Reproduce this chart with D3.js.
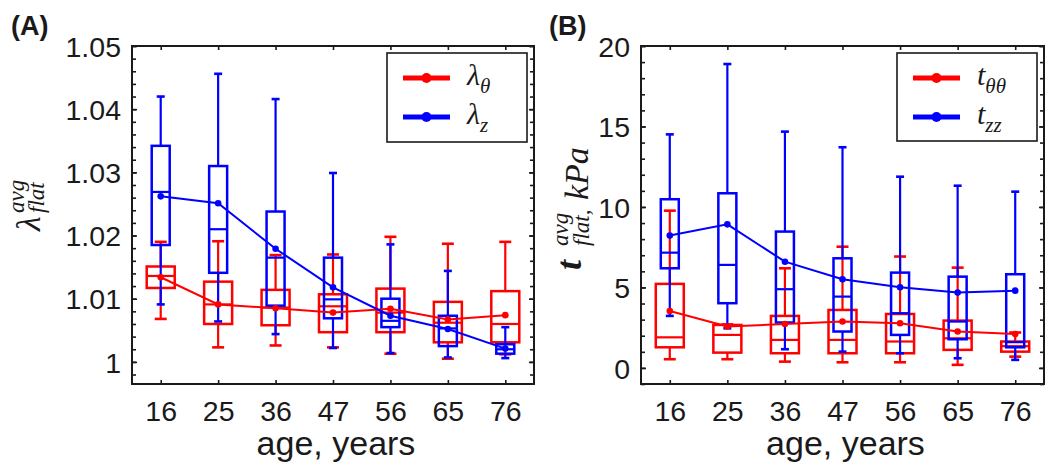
<!DOCTYPE html>
<html><head><meta charset="utf-8">
<script src="https://cdn.jsdelivr.net/npm/d3@7"></script>
<style>body{margin:0;background:#fff}svg{display:block}</style>
</head><body>
<svg id="chart" width="1050" height="472"></svg>
<script>
// ---------- data ----------
const ages = ["16","25","36","47","56","65","76"];

// Panel A: lambda_theta (red)
const lamThetaLo   = [1.0068, 1.0023, 1.0026, 1.0023, 1.0013, 1.0005, 1.0012];
const lamThetaQ1   = [1.0117, 1.0060, 1.0058, 1.0047, 1.0047, 1.0031, 1.0031];
const lamThetaMed  = [1.0136, 1.0091, 1.0086, 1.0088, 1.0078, 1.0062, 1.0060];
const lamThetaQ3   = [1.0151, 1.0127, 1.0114, 1.0107, 1.0116, 1.0095, 1.0112];
const lamThetaHi   = [1.0190, 1.0191, 1.0169, 1.0170, 1.0198, 1.0187, 1.0190];
const lamThetaMean = [1.0134, 1.0091, 1.0085, 1.0078, 1.0084, 1.0067, 1.0074];
// Panel A: lambda_z (blue)
const lamZLo   = [1.0091, 1.0064, 1.0044, 1.0022, 1.0014, 1.0007, 1.0006];
const lamZQ1   = [1.0185, 1.0141, 1.0089, 1.0069, 1.0055, 1.0025, 1.0013];
const lamZMed  = [1.0269, 1.0210, 1.0165, 1.0099, 1.0065, 1.0053, 1.0020];
const lamZQ3   = [1.0342, 1.0310, 1.0238, 1.0165, 1.0100, 1.0073, 1.0028];
const lamZHi   = [1.0420, 1.0456, 1.0416, 1.0299, 1.0186, 1.0144, 1.0055];
const lamZMean = [1.0262, 1.0251, 1.0179, 1.0118, 1.0073, 1.0052, 1.0021];

// Panel B: t_thetatheta (red)
const tThLo   = [0.54, 0.54, 0.39, 0.35, 0.35, 0.19, 0.70];
const tThQ1   = [1.28, 0.95, 0.91, 0.91, 0.91, 1.12, 1.01];
const tThMed  = [1.90, 2.05, 1.74, 1.74, 1.64, 1.84, 1.35];
const tThQ3   = [5.22, 2.67, 3.23, 3.60, 3.35, 2.94, 1.64];
const tThHi   = [9.77, 2.70, 6.19, 7.53, 6.92, 6.23, 2.20];
const tThMean = [3.54, 2.57, 2.73, 2.88, 2.77, 2.26, 2.11];
// Panel B: t_zz (blue)
const tZLo   = [3.23, 2.46, 1.16, 1.01, 0.91, 0.60, 0.50];
const tZQ1   = [6.19, 4.02, 2.82, 2.26, 2.05, 1.78, 1.28];
const tZMed  = [7.16, 6.40, 4.89, 4.43, 3.40, 2.88, 1.60];
const tZQ3   = [10.48, 10.85, 8.47, 6.81, 5.92, 5.67, 5.82];
const tZHi   = [14.51, 18.88, 14.68, 13.71, 11.88, 11.32, 10.95];
const tZMean = [8.22, 8.92, 6.60, 5.51, 5.01, 4.68, 4.80];

const yTicksA = [1, 1.01, 1.02, 1.03, 1.04, 1.05];
const yTickLabelsA = ["1", "1.01", "1.02", "1.03", "1.04", "1.05"];
const yTicksB = [0, 5, 10, 15, 20];
const yTickLabelsB = ["0", "5", "10", "15", "20"];

// ---------- drawing ----------
const RED = "#ff0000", BLUE = "#0000ff", INK = "#1a1a1a";
const SANS = "'Liberation Sans', Arial, Helvetica, sans-serif";
const SERIF = "'Liberation Serif', 'Times New Roman', serif";
const svg = d3.select("#chart");

function series(lo, q1, med, q3, hi, mean) {
  return ages.map((a, i) => ({age: a, i, lo: lo[i], q1: q1[i], med: med[i], q3: q3[i], hi: hi[i], mean: mean[i]}));
}

function drawPanel(cfg) {
  const {left, right, top, bottom} = cfg;
  const g = svg.append("g");
  const x = d3.scalePoint().domain(ages).range([left, right]).padding(0.5);
  const y = d3.scaleLinear().domain(cfg.yDomain).range([bottom, top]);

  function boxes(data, color, bw, cw) {
    const gg = g.append("g").attr("fill", "none").attr("stroke", color);
    const b = gg.selectAll("g").data(data).join("g");
    b.append("line").attr("x1", d => x(d.age)).attr("x2", d => x(d.age))
      .attr("y1", d => y(d.q3)).attr("y2", d => y(d.hi)).attr("stroke-width", 2.2);
    b.append("line").attr("x1", d => x(d.age)).attr("x2", d => x(d.age))
      .attr("y1", d => y(d.q1)).attr("y2", d => y(d.lo)).attr("stroke-width", 2.2);
    b.append("line").attr("x1", d => x(d.age) - cw/2).attr("x2", d => x(d.age) + cw/2)
      .attr("y1", d => y(d.hi)).attr("y2", d => y(d.hi)).attr("stroke-width", 2.6);
    b.append("line").attr("x1", d => x(d.age) - cw/2).attr("x2", d => x(d.age) + cw/2)
      .attr("y1", d => y(d.lo)).attr("y2", d => y(d.lo)).attr("stroke-width", 2.6);
    b.append("rect").attr("x", d => x(d.age) - bw/2).attr("width", bw)
      .attr("y", d => y(d.q3)).attr("height", d => y(d.q1) - y(d.q3)).attr("stroke-width", 2.5);
    b.append("line").attr("x1", d => x(d.age) - bw/2).attr("x2", d => x(d.age) + bw/2)
      .attr("y1", d => y(d.med)).attr("y2", d => y(d.med)).attr("stroke-width", 2.2);
  }
  function meanLine(data, color) {
    g.append("path").datum(data).attr("fill", "none").attr("stroke", color).attr("stroke-width", 2)
      .attr("d", d3.line().x(d => x(d.age)).y(d => y(d.mean)));
    g.append("g").selectAll("circle").data(data).join("circle")
      .attr("cx", d => x(d.age)).attr("cy", d => y(d.mean)).attr("r", 3.3).attr("fill", color);
  }
  boxes(cfg.red, RED, 28, 12);
  boxes(cfg.blue, BLUE, 18, 8);
  meanLine(cfg.red, RED);
  meanLine(cfg.blue, BLUE);

  const styleAxis = sel => {
    sel.select(".domain").remove();
    sel.selectAll("line").attr("stroke", INK).attr("stroke-width", 1.6);
    sel.selectAll("text").attr("font-family", SANS).attr("font-size", 28.5).attr("fill", INK);
  };
  const [y0, y1] = cfg.yDomain;
  const minor = d3.range(Math.ceil(y0 / cfg.minorStep - 1e-9), Math.floor(y1 / cfg.minorStep + 1e-9) + 1)
    .map(k => +(k * cfg.minorStep).toFixed(6));
  g.append("g").attr("transform", `translate(${left},0)`)
    .call(d3.axisLeft(y).tickValues(minor).tickSize(-4).tickFormat("")).call(styleAxis);
  g.append("g").attr("transform", `translate(${right},0)`)
    .call(d3.axisRight(y).tickValues(minor).tickSize(-4).tickFormat("")).call(styleAxis);
  g.append("g").attr("transform", `translate(${left},0)`)
    .call(d3.axisLeft(y).tickValues(cfg.yTicks).tickSize(-5).tickPadding(11)
      .tickFormat((d, i) => cfg.yLabels[i])).call(styleAxis)
    .selectAll("text").attr("dy", "0.36em");
  g.append("g").attr("transform", `translate(${right},0)`)
    .call(d3.axisRight(y).tickValues(cfg.yTicks).tickSize(-5).tickFormat("")).call(styleAxis);
  g.append("g").attr("transform", `translate(0,${bottom})`)
    .call(d3.axisBottom(x).tickSize(-4).tickPadding(17)).call(styleAxis);
  g.append("g").attr("transform", `translate(0,${top})`)
    .call(d3.axisTop(x).tickSize(-4).tickFormat("")).call(styleAxis);

  g.append("rect").attr("x", left).attr("y", top).attr("width", right - left).attr("height", bottom - top)
    .attr("fill", "none").attr("stroke", INK).attr("stroke-width", 2);

  g.append("text").attr("x", (left + right) / 2 + 3).attr("y", 455).attr("text-anchor", "middle")
    .attr("font-family", SANS).attr("font-size", 34).attr("fill", INK).text("age, years");

  g.append("text").attr("x", cfg.tagX).attr("y", 35).attr("font-family", SANS).attr("font-weight", "bold")
    .attr("font-size", 27).attr("fill", INK).text(cfg.tag);

  const L = cfg.legend;
  g.append("rect").attr("x", L.x).attr("y", L.y).attr("width", L.w).attr("height", L.h)
    .attr("fill", "#fff").attr("stroke", INK).attr("stroke-width", 1.6);
  [[RED, L.y + 25, cfg.legNames[0]], [BLUE, L.y + 64, cfg.legNames[1]]].forEach(([c, ly, nm]) => {
    g.append("line").attr("x1", L.x + 16).attr("x2", L.x + 63).attr("y1", ly).attr("y2", ly)
      .attr("stroke", c).attr("stroke-width", 5);
    g.append("circle").attr("cx", L.x + 39.5).attr("cy", ly).attr("r", 5).attr("fill", c);
    const t = g.append("text").attr("x", L.x + 80).attr("y", ly + 7).attr("font-family", SERIF)
      .attr("font-style", "italic").attr("font-size", 30).attr("fill", INK);
    t.append("tspan").text(nm[0]);
    t.append("tspan").attr("font-size", 21).attr("dy", 8).text(nm[1]);
  });
  return {x, y, g};
}

drawPanel({
  left: 132, right: 534, top: 46, bottom: 384,
  yDomain: [0.9965, 1.05], minorStep: 0.002,
  yTicks: yTicksA, yLabels: yTickLabelsA,
  red: series(lamThetaLo, lamThetaQ1, lamThetaMed, lamThetaQ3, lamThetaHi, lamThetaMean),
  blue: series(lamZLo, lamZQ1, lamZMed, lamZQ3, lamZHi, lamZMean),
  tag: "(A)", tagX: 11,
  legend: {x: 387, y: 53, w: 140, h: 89},
  legNames: [["λ", "θ"], ["λ", "z"]]
});
drawPanel({
  left: 641, right: 1044, top: 46, bottom: 384,
  yDomain: [-1, 20], minorStep: 1,
  yTicks: yTicksB, yLabels: yTickLabelsB,
  red: series(tThLo, tThQ1, tThMed, tThQ3, tThHi, tThMean),
  blue: series(tZLo, tZQ1, tZMed, tZQ3, tZHi, tZMean),
  tag: "(B)", tagX: 549,
  legend: {x: 897, y: 53, w: 140, h: 88},
  legNames: [["t", "θθ"], ["t", "zz"]]
});

function rot(x, y, txt, size, opts = {}) {
  svg.append("text").attr("transform", `translate(${x},${y}) rotate(-90)`)
    .attr("font-family", SERIF).attr("font-style", "italic").attr("font-size", size)
    .attr("font-weight", opts.bold ? "bold" : "normal").attr("fill", INK).text(txt);
}
rot(40, 231, "λ", 34);
rot(24, 213, "avg", 23);
rot(44, 213, "flat", 23);
rot(581, 270, "t", 36, {bold: true});
rot(568, 246, "avg", 23);
rot(589, 246, "flat,", 23);
rot(588, 200, "kPa", 34);
</script>
</body></html>
